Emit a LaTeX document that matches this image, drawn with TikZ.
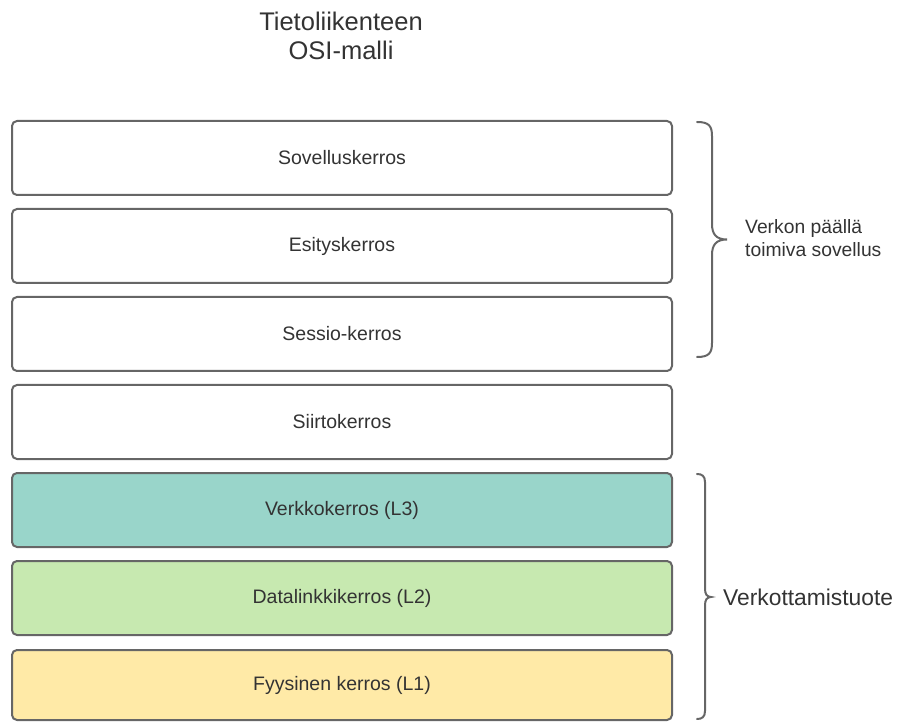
\documentclass[tikz,border=0pt]{standalone}
\usepackage{fontspec}
\setmainfont{Liberation Sans}
\begin{document}
\begin{tikzpicture}[x=1pt,y=-1pt,
  layer/.style={draw=linegray,line width=2pt,rounded corners=5pt,fill=white,
    minimum width=660pt,minimum height=74pt,inner sep=0pt,
    font=\fontsize{19.5}{23}\selectfont,text=textgray},
  bracket/.style={draw=linegray,line width=2pt,line cap=round},
  note/.style={text=textgray,align=left,anchor=west,inner sep=0pt}]
\definecolor{linegray}{HTML}{666666}
\definecolor{textgray}{HTML}{333333}
\definecolor{tealfill}{HTML}{99D5CA}
\definecolor{greenfill}{HTML}{C7E9B0}
\definecolor{yellowfill}{HTML}{FFEAA7}
\useasboundingbox (0,0) rectangle (906,722);

\node[text=textgray,align=center,font=\fontsize{25.5}{29}\selectfont] (title) at (341,36)
  {Tietoliikenteen\\OSI-malli};

\node[layer] (l7) at (342,158) {Sovelluskerros};
\node[layer] (l6) at (342,246) {Esityskerros};
\node[layer] (l5) at (342,334) {Sessio-kerros};
\node[layer] (l4) at (342,422) {Siirtokerros};
\node[layer,fill=tealfill] (l3) at (342,510) {Verkkokerros (L3)};
\node[layer,fill=greenfill] (l2) at (342,598) {Datalinkkikerros (L2)};
\node[layer,fill=yellowfill,minimum height=70pt] (l1) at (342,685) {Fyysinen kerros (L1)};

% upper brace: application layers
\coordinate (ua) at (697,122);
\coordinate (ub) at (697,357);
\coordinate (utip) at (727,239.5);
\draw[bracket] (ua) .. controls (709,122) and (712,126) .. (712,136)
  -- (712,224) .. controls (712,234) and (716,239.5) .. (utip)
  .. controls (716,239.5) and (712,245) .. (712,255)
  -- (712,343) .. controls (712,353) and (709,357) .. (ub);
\node[note,font=\fontsize{19.3}{23}\selectfont] (app) at (745,238)
  {Verkon päällä\\toimiva sovellus};

% lower brace: networking product layers
\coordinate (la) at (697,474);
\coordinate (lb) at (697,719);
\coordinate (ltip) at (711,597);
\draw[bracket] (la) .. controls (702,474) and (705,476) .. (705,482)
  -- (705,589) .. controls (705,594) and (707,597) .. (ltip)
  .. controls (707,597) and (705,600) .. (705,605)
  -- (705,711) .. controls (705,717) and (702,719) .. (lb);
\node[note,font=\fontsize{22.8}{26}\selectfont] (net) at (723,597) {Verkottamistuote};
\end{tikzpicture}
\end{document}
